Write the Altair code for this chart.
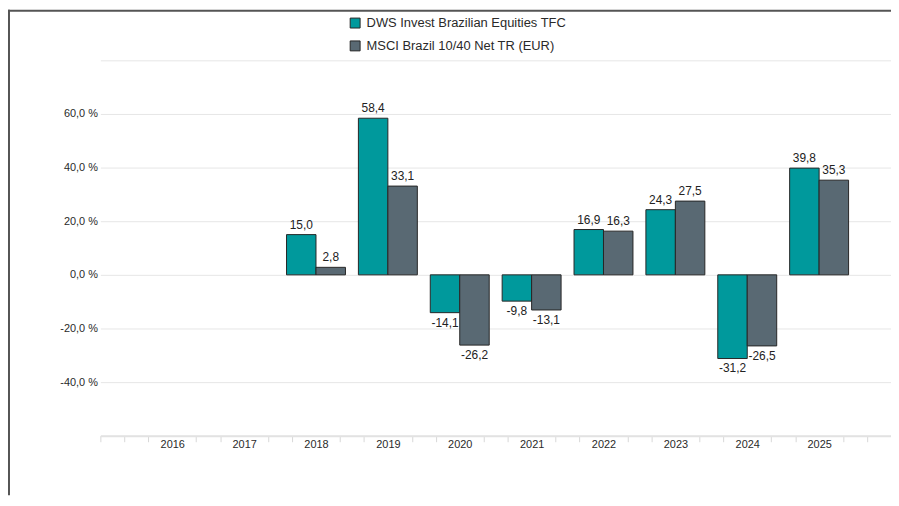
import altair as alt
import pandas as pd

years = [2016, 2017, 2018, 2019, 2020, 2021, 2022, 2023, 2024, 2025]
fund = [None, None, 15.0, 58.4, -14.1, -9.8, 16.9, 24.3, -31.2, 39.8]
bench = [None, None, 2.8, 33.1, -26.2, -13.1, 16.3, 27.5, -26.5, 35.3]
series_names = ["DWS Invest Brazilian Equities TFC", "MSCI Brazil 10/40 Net TR (EUR)"]
colors = ["#00999c", "#596973"]
y_ticks = [-60, -40, -20, 0, 20, 40, 60, 80]

rows = []
for i, yr in enumerate(years):
    for k, vals in enumerate([fund, bench]):
        if vals[i] is not None:
            rows.append({"year": yr, "series": series_names[k], "value": vals[i], "order": k})
df = pd.DataFrame(rows)

x_ticks = [round(2015 + k / 3, 4) for k in range(34)]
is_label = "abs(datum.value - round(datum.value)) < 0.01 && datum.value > 2015.5 && datum.value < 2025.5"

FONT = "Liberation Sans"
xscale = alt.Scale(domain=[2015, 2026], nice=False, zero=False)
yscale = alt.Scale(domain=[-60, 80], nice=False, zero=False)

x_axis = alt.Axis(
    values=x_ticks,
    tickCount=60,
    labelExpr="(" + is_label + ") ? toString(round(datum.value)) : ''",
    grid=False,
    domainColor="#e2e2e2",
    domainWidth=2,
    tickColor="#d8d8d8",
    tickSize=6,
    tickWidth=1,
    tickOpacity={"condition": {"test": is_label, "value": 0}, "value": 1},
    labelFontSize=11,
    labelColor="#2a2a2a",
    labelPadding=-3,
    labelFlush=False,
    labelOverlap=False,
)
y_axis = alt.Axis(
    values=y_ticks,
    tickCount=20,
    labelExpr="(datum.value < -50 || datum.value > 70) ? '' : (datum.value < 0 ? '-' : '') + replace(format(abs(datum.value), '.1f'), '.', ',') + ' %'",
    grid=True,
    gridColor="#e6e6e6",
    gridWidth=1,
    domain=False,
    ticks=False,
    labelPadding=3,
    labelFontSize=11,
    labelColor="#2a2a2a",
    labelOverlap=False,
)

base = alt.Chart(df).transform_calculate(
    x0="datum.order == 0 ? datum.year - 0.41 : datum.year",
    x1="datum.order == 0 ? datum.year : datum.year + 0.41",
    xc="datum.order == 0 ? datum.year - 0.205 : datum.year + 0.205",
    label="(datum.value < 0 ? '-' : '') + replace(format(abs(datum.value), '.1f'), '.', ',')",
)

bars = base.mark_bar(stroke="#262626", strokeWidth=1).encode(
    x=alt.X("x0:Q", scale=xscale, title=None, axis=x_axis),
    x2="x1:Q",
    y=alt.Y("value:Q", scale=yscale, title=None, axis=y_axis),
    y2=alt.datum(0),
    color=alt.Color(
        "series:N",
        scale=alt.Scale(domain=series_names, range=colors),
        legend=alt.Legend(
            title=None,
            orient="none",
            legendX=250,
            legendY=-44,
            symbolType="square",
            symbolSize=100,
            symbolStrokeColor="#262626",
            symbolStrokeWidth=1,
            labelFontSize=13,
            labelColor="#2a2a2a",
            labelOffset=5,
            labelLimit=0,
            rowPadding=8,
            padding=0,
            offset=0,
        ),
    ),
)

pos = base.transform_filter("datum.value >= 0").mark_text(
    baseline="alphabetic", dy=-6, fontSize=12, color="#222222"
).encode(
    x=alt.X("xc:Q", scale=xscale, title=None, axis=x_axis),
    y=alt.Y("value:Q", scale=yscale, title=None, axis=y_axis),
    text="label:N",
)

neg = base.transform_filter("datum.value < 0").mark_text(
    baseline="top", dy=5, fontSize=12, color="#222222"
).encode(
    x=alt.X("xc:Q", scale=xscale, title=None, axis=x_axis),
    y=alt.Y("value:Q", scale=yscale, title=None, axis=y_axis),
    text="label:N",
)

one = pd.DataFrame({"a": [0]})
left_border = alt.Chart(one).mark_rule(color="#555555", strokeWidth=2).encode(
    x=alt.value(-92), y=alt.value(-51), y2=alt.value(438)
)
top_border = alt.Chart(one).mark_rule(color="#555555", strokeWidth=2).encode(
    x=alt.value(-93), x2=alt.value(800), y=alt.value(-50)
)

chart = alt.layer(bars, pos, neg, left_border, top_border).properties(
    width=796,
    height=378,
    padding={"left": 93, "top": 51, "right": 0, "bottom": 60},
    autosize="none",
).configure(font=FONT).configure_view(stroke=None)

chart.save("out.html", embed_options={"renderer": "svg", "actions": False})
